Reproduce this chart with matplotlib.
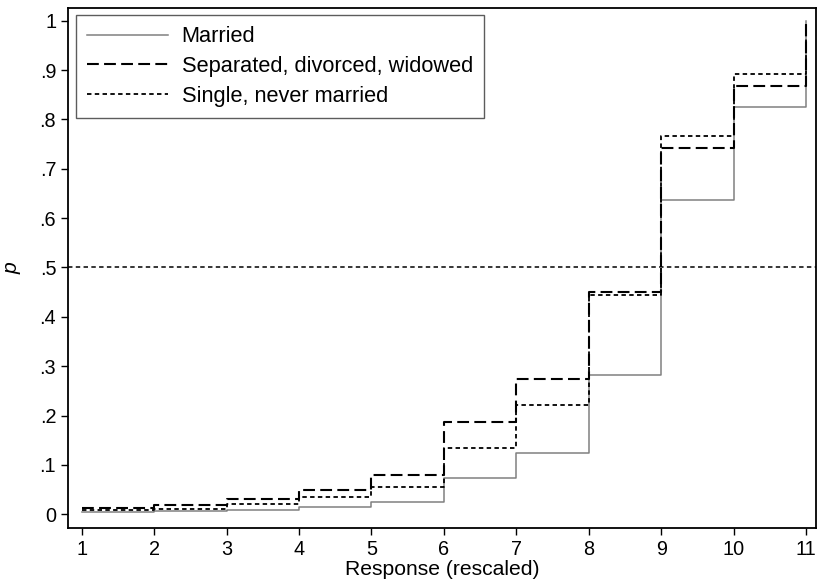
import matplotlib
matplotlib.use('Agg')
import matplotlib.pyplot as plt

plt.rcParams['font.family'] = ['Liberation Sans', 'DejaVu Sans']
plt.rcParams['lines.scale_dashes'] = False

# cumulative proportions at each response value 1..11
response = [1, 2, 3, 4, 5, 6, 7, 8, 9, 10, 11]
married = [0.004, 0.006, 0.008, 0.015, 0.025, 0.073, 0.125, 0.283, 0.636, 0.825, 1.0]
separated = [0.013, 0.018, 0.032, 0.050, 0.079, 0.187, 0.274, 0.450, 0.742, 0.867, 1.0]
single = [0.008, 0.010, 0.020, 0.035, 0.056, 0.135, 0.222, 0.444, 0.767, 0.891, 1.0]

y_ticks = [0, .1, .2, .3, .4, .5, .6, .7, .8, .9, 1]
y_labels = ['0', '.1', '.2', '.3', '.4', '.5', '.6', '.7', '.8', '.9', '1']

fig = plt.figure(figsize=(8.17, 5.85), dpi=100)
ax = fig.add_axes([0.0832, 0.0974, 0.9155, 0.889])

ax.axhline(0.5, color='black', lw=1.1, dashes=(3.2, 2.4), zorder=1)

ax.plot(response, married, drawstyle='steps-post', color='#808080', lw=1.1,
        label='Married', zorder=2)
ax.plot(response, separated, drawstyle='steps-post', color='black', lw=1.5,
        dashes=(8.5, 3.8), label='Separated, divorced, widowed', zorder=3)
ax.plot(response, single, drawstyle='steps-post', color='black', lw=1.3,
        dashes=(3.2, 2.4), label='Single, never married', zorder=4)

ax.set_xlim(0.811, 11.134)
ax.set_ylim(-0.0278, 1.0257)
ax.set_xticks(response)
ax.set_yticks(y_ticks)
ax.set_yticklabels(y_labels)
ax.tick_params(direction='out', length=5, width=1, labelsize=14.3, colors='black')
for s in ax.spines.values():
    s.set_linewidth(1.3)

ax.set_xlabel('Response (rescaled)', fontsize=15.2, labelpad=1)
ax.set_ylabel('p', fontsize=15.2, style='italic', labelpad=13)

leg = ax.legend(loc='upper left', bbox_to_anchor=(0.0107, 0.9857), fontsize=15.7,
                frameon=True, fancybox=False, edgecolor='#333333',
                handlelength=3.7, handletextpad=0.64, labelspacing=0.4,
                borderpad=0.5, borderaxespad=0)
leg.get_frame().set_linewidth(1.0)

fig.savefig('out.png', dpi=100)
